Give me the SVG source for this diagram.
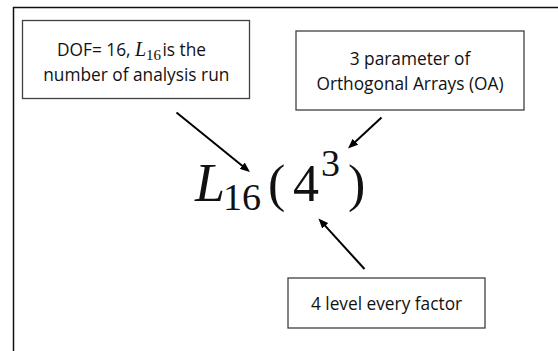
<svg xmlns="http://www.w3.org/2000/svg" width="558" height="351" viewBox="0 0 558 351">
  <defs>
    <style>
      .box { fill: #ffffff; stroke: #404040; stroke-width: 1.3; }
      .lbl { font-family: "Open Sans", "Liberation Sans", sans-serif; font-size: 17.3px; fill: #111111; }
      .math { font-family: "Liberation Serif", "DejaVu Serif", serif; fill: #111111; }
      .it { font-style: italic; }
      .conn { stroke: #000000; stroke-width: 2; fill: none; marker-end: url(#arrow); }
    </style>
    <marker id="arrow" markerUnits="userSpaceOnUse" markerWidth="10" markerHeight="8" refX="4" refY="4" orient="auto">
      <path d="M0,0 L10,4 L0,8 z" fill="#000000"/>
    </marker>
  </defs>
  <rect x="0" y="0" width="558" height="351" fill="#ffffff"/>
  <path d="M13.5,351 V7.5 H558" fill="none" stroke="#111111" stroke-width="1.5"/>

  <g id="node-dof">
    <rect class="box" x="22.5" y="20.5" width="227" height="78"/>
    <text class="lbl" x="57" y="56">DOF= 16,</text>
    <text class="math it" x="135" y="56" font-size="20">L</text>
    <text class="math" x="146" y="59.5" font-size="15">16</text>
    <text class="lbl" x="162.5" y="56">is the</text>
    <text class="lbl" x="136.3" y="80.5" text-anchor="middle">number of analysis run</text>
  </g>

  <g id="node-param">
    <rect class="box" x="296" y="31" width="228" height="79"/>
    <text class="lbl" x="410" y="65" text-anchor="middle">3 parameter of</text>
    <text class="lbl" x="410" y="89.5" text-anchor="middle">Orthogonal Arrays (OA)</text>
  </g>

  <g id="node-level">
    <rect class="box" x="288" y="278" width="197" height="50"/>
    <text class="lbl" x="386.5" y="310" text-anchor="middle">4 level every factor</text>
  </g>

  <g id="node-formula">
    <text class="math it" x="195" y="201" font-size="54">L</text>
    <text class="math" x="223" y="210" font-size="38">16</text>
    <text class="math" x="268" y="201" font-size="52">(</text>
    <text class="math" x="293" y="201" font-size="52">4</text>
    <text class="math" x="321" y="176" font-size="38">3</text>
    <text class="math" x="348" y="201" font-size="52">)</text>
  </g>

  <g id="connectors">
    <line class="conn" x1="176.5" y1="112.5" x2="245.3" y2="168.2"/>
    <line class="conn" x1="381.5" y1="117.5" x2="352.4" y2="144.4"/>
    <line class="conn" x1="364.5" y1="269" x2="322.5" y2="222.9"/>
  </g>
</svg>
